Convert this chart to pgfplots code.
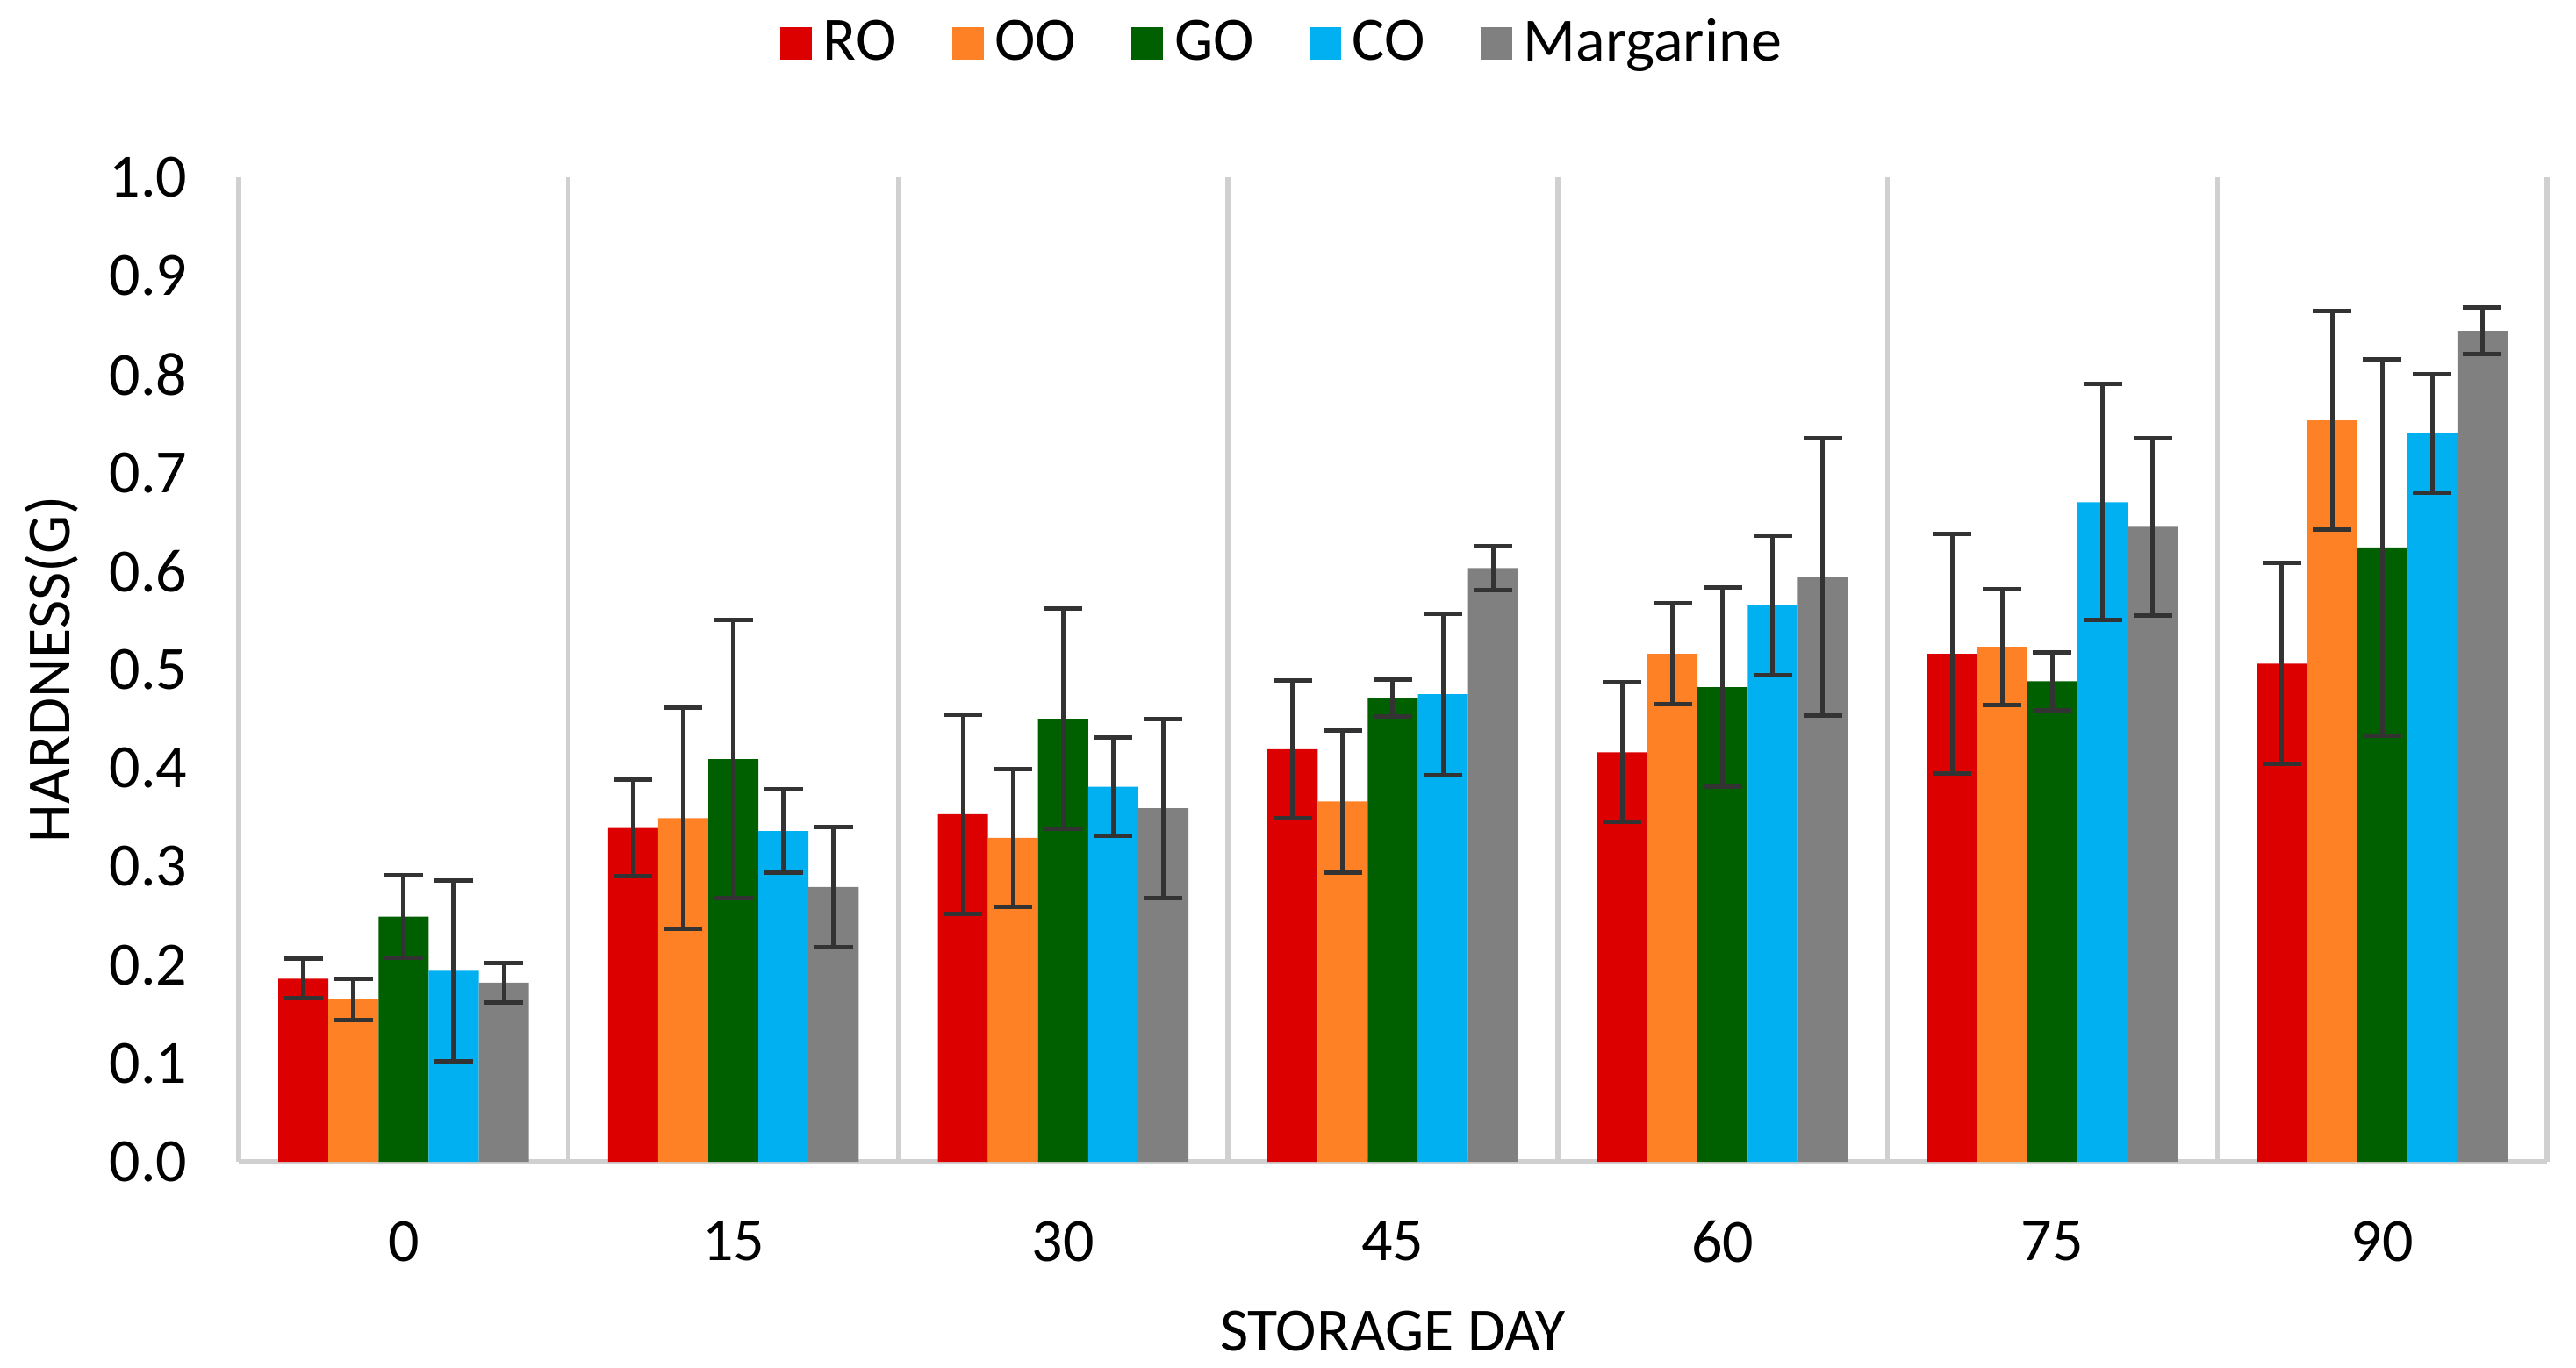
\documentclass[border=0pt]{standalone}
\usepackage{fontspec}
\setmainfont{Carlito}
\usepackage{pgfplots}
\pgfplotsset{compat=1.18}
\definecolor{cRO}{HTML}{DD0000}
\definecolor{cOO}{HTML}{FF8126}
\definecolor{cGO}{HTML}{006000}
\definecolor{cCO}{HTML}{00B0F0}
\definecolor{cMA}{HTML}{808080}
\definecolor{errc}{HTML}{333333}
\definecolor{gridc}{HTML}{D0D0D0}
\begin{document}
\begin{tikzpicture}
\useasboundingbox (-54.4pt,-46.8pt) rectangle (532.6pt,264.8pt);
\begin{axis}[
  scale only axis,
  width=526pt, height=224.4pt,
  ybar=0pt, bar width=0.152,
  xmin=-0.5, xmax=6.5, ymin=0, ymax=1,
  xtick={0,1,2,3,4,5,6},
  xticklabels={0,15,30,45,60,75,90},
  minor xtick={-0.5,0.5,1.5,2.5,3.5,4.5,5.5,6.5},
  xminorgrids, minor grid style={draw=gridc, line width=1.1pt},
  ytick={0,0.1,...,1.0},
  yticklabel style={/pgf/number format/fixed,/pgf/number format/fixed zerofill,/pgf/number format/precision=1, font=\fontsize{14}{16}\selectfont, xshift=-8.2pt},
  /pgf/number format/assume math mode=true,
  xticklabel style={font=\fontsize{14}{16}\selectfont, yshift=-10pt},
  major tick length=0pt, minor tick length=0pt,
  axis x line*=bottom, axis y line*=left,
  axis line style={draw=gridc, line width=1.1pt},
  separate axis lines,
  x axis line style={-}, y axis line style={-},
  xlabel={STORAGE DAY}, ylabel={HARDNESS(G)},
  xlabel style={font=\fontsize{14}{16}\selectfont, at={(rel axis cs:0.5,0)}, anchor=center, yshift=-38.6pt},
  ylabel style={font=\fontsize{14}{16}\selectfont, at={([xshift=-42.6pt]rel axis cs:0,0.5)}, anchor=center},
  legend style={at={(0.454,1.136)}, anchor=center, draw=none, font=\fontsize{14}{16}\selectfont,
    legend columns=5, /tikz/every even column/.append style={column sep=10pt},
    nodes={inner xsep=2.6pt}},
  legend image code/.code={\fill[#1] (0pt,-3.7pt) rectangle (7.2pt,3.7pt);},
  error bars/y dir=both, error bars/y explicit,
  error bars/error bar style={draw=errc, line width=1pt},
  error bars/error mark options={rotate=90, mark size=4.4pt, line width=1pt, draw=errc},
]
\addplot[fill=cRO, draw=none] coordinates {
 (0,0.186) +- (0,0.020) (1,0.339) +- (0,0.049) (2,0.353) +- (0,0.101) (3,0.419) +- (0,0.070)
 (4,0.416) +- (0,0.071) (5,0.516) +- (0,0.122) (6,0.506) +- (0,0.102)};
\addplot[fill=cOO, draw=none] coordinates {
 (0,0.165) +- (0,0.021) (1,0.349) +- (0,0.112) (2,0.329) +- (0,0.070) (3,0.366) +- (0,0.072)
 (4,0.516) +- (0,0.051) (5,0.523) +- (0,0.059) (6,0.753) +- (0,0.111)};
\addplot[fill=cGO, draw=none] coordinates {
 (0,0.249) +- (0,0.042) (1,0.409) +- (0,0.141) (2,0.450) +- (0,0.112) (3,0.471) +- (0,0.019)
 (4,0.482) +- (0,0.101) (5,0.488) +- (0,0.029) (6,0.624) +- (0,0.191)};
\addplot[fill=cCO, draw=none] coordinates {
 (0,0.194) +- (0,0.092) (1,0.336) +- (0,0.042) (2,0.381) +- (0,0.050) (3,0.475) +- (0,0.082)
 (4,0.565) +- (0,0.071) (5,0.670) +- (0,0.120) (6,0.740) +- (0,0.060)};
\addplot[fill=cMA, draw=none] coordinates {
 (0,0.182) +- (0,0.020) (1,0.279) +- (0,0.061) (2,0.359) +- (0,0.091) (3,0.603) +- (0,0.022)
 (4,0.594) +- (0,0.141) (5,0.645) +- (0,0.090) (6,0.844) +- (0,0.024)};
\legend{RO,OO,GO,CO,Margarine}
\end{axis}
\end{tikzpicture}
\end{document}
